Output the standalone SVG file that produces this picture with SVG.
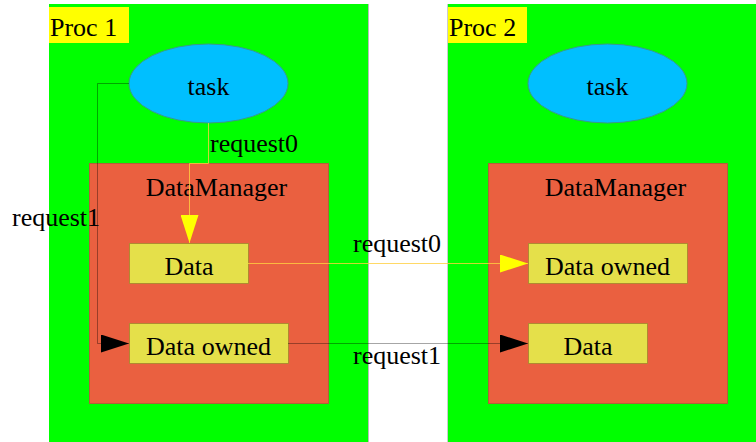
<svg xmlns="http://www.w3.org/2000/svg" width="756" height="442" viewBox="0 0 756 442">
  <style>
    text { font-family: "Liberation Serif", "Times New Roman", serif; fill: #000; font-size: 26px; }
    .proc { fill: #00ff00; }
    .plabel { fill: #ffff00; }
    .task { fill: #00bfff; stroke: #3a9a8a; stroke-width: 1; }
    .mgr { fill: #ea6040; stroke: #b0603a; stroke-width: 1; }
    .data { fill: #e5e04a; stroke: #b08a30; stroke-width: 1; }
    .conn0 { fill: none; stroke: #ffd040; stroke-width: 1; stroke-opacity: 0.8; }
    .conn1 { fill: none; stroke: #000; stroke-width: 1; stroke-opacity: 0.35; }
  </style>
  <defs>
    <marker id="arrowYellow" viewBox="0 0 28 18" refX="28" refY="9" markerWidth="28" markerHeight="18" markerUnits="userSpaceOnUse" orient="auto">
      <path d="M0,0 L28,9 L0,18 Z" fill="#ffff00"/>
    </marker>
    <marker id="arrowBlack" viewBox="0 0 28 18" refX="28" refY="9" markerWidth="28" markerHeight="18" markerUnits="userSpaceOnUse" orient="auto">
      <path d="M0,0 L28,9 L0,18 Z" fill="#000"/>
    </marker>
  </defs>

  <rect x="0" y="0" width="756" height="442" fill="#ffffff"/>

  <!-- Process 1 -->
  <g id="proc1">
    <rect class="proc" x="49" y="4" width="319" height="438"/>
    <line x1="368.5" y1="4" x2="368.5" y2="442" stroke="#bbbbbb" stroke-width="1"/>
    <rect class="plabel" x="49" y="7" width="80" height="36"/>
    <text x="50" y="36">Proc 1</text>
  </g>
  <g id="task1">
    <ellipse class="task" cx="208.5" cy="83.5" rx="79.5" ry="39.5"/>
    <text x="208.5" y="95" text-anchor="middle">task</text>
  </g>
  <g id="manager1">
    <rect class="mgr" x="89.5" y="163.5" width="239" height="240"/>
    <text x="216.5" y="196" text-anchor="middle">DataManager</text>
  </g>
  <g id="data1">
    <rect class="data" x="129.5" y="243.5" width="119" height="40"/>
    <text x="189" y="275" text-anchor="middle">Data</text>
  </g>
  <g id="owned1">
    <rect class="data" x="129.5" y="323.5" width="159" height="40"/>
    <text x="208.5" y="355" text-anchor="middle">Data owned</text>
  </g>

  <!-- Process 2 -->
  <g id="proc2">
    <rect class="proc" x="448" y="4" width="308" height="438"/>
    <line x1="447.5" y1="4" x2="447.5" y2="442" stroke="#cccccc" stroke-width="1"/>
    <rect class="plabel" x="448" y="7" width="79" height="36"/>
    <text x="449" y="36">Proc 2</text>
  </g>
  <g id="task2">
    <ellipse class="task" cx="607.5" cy="83.5" rx="79.5" ry="39.5"/>
    <text x="607.5" y="95" text-anchor="middle">task</text>
  </g>
  <g id="manager2">
    <rect class="mgr" x="488.5" y="163.5" width="239" height="240"/>
    <text x="615.5" y="196" text-anchor="middle">DataManager</text>
  </g>
  <g id="owned2">
    <rect class="data" x="528.5" y="243.5" width="159" height="40"/>
    <text x="607.5" y="275" text-anchor="middle">Data owned</text>
  </g>
  <g id="data2">
    <rect class="data" x="528.5" y="323.5" width="119" height="40"/>
    <text x="588" y="355" text-anchor="middle">Data</text>
  </g>

  <!-- Connectors -->
  <g id="connectors">
    <polyline class="conn0" points="208.5,123 208.5,163.5 189.5,163.5 189.5,243" marker-end="url(#arrowYellow)"/>
    <text x="210" y="152">request0</text>

    <polyline class="conn1" points="129,83.5 97.5,83.5 97.5,343.5 129,343.5" marker-end="url(#arrowBlack)"/>
    <text x="12" y="226">request1</text>

    <polyline class="conn0" points="248,263.5 528,263.5" marker-end="url(#arrowYellow)"/>
    <text x="353" y="252">request0</text>

    <polyline class="conn1" points="288,343.5 528,343.5" marker-end="url(#arrowBlack)"/>
    <text x="353" y="364">request1</text>
  </g>
</svg>
